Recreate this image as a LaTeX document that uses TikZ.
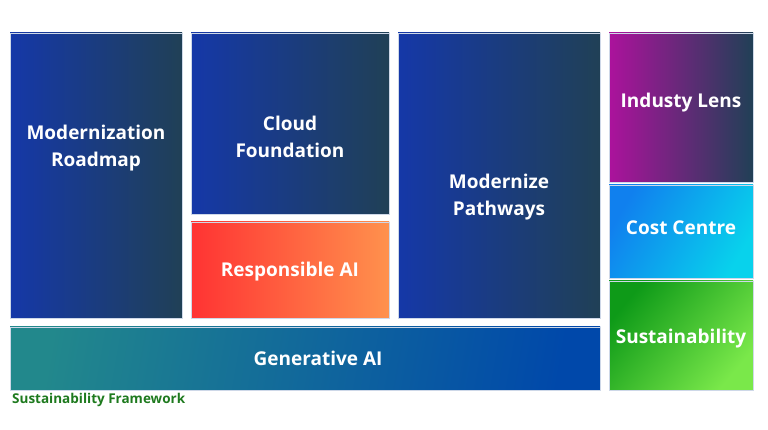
\documentclass[tikz,border=0pt]{standalone}
\usepackage{fontspec}
\setmainfont{Open Sans}
\definecolor{navyL}{RGB}{21,56,168}
\definecolor{navyR}{RGB}{32,64,86}
\definecolor{plumL}{RGB}{172,18,156}
\definecolor{coralL}{RGB}{255,51,51}
\definecolor{coralR}{RGB}{255,145,77}
\definecolor{skyL}{RGB}{16,128,238}
\definecolor{skyR}{RGB}{8,210,236}
\definecolor{leafL}{RGB}{14,154,24}
\definecolor{leafR}{RGB}{122,232,74}
\definecolor{tealL}{RGB}{34,136,140}
\definecolor{tealR}{RGB}{0,72,170}
\definecolor{edge}{RGB}{206,216,232}
\definecolor{frametext}{RGB}{30,122,30}

\begin{document}
\begin{tikzpicture}[x=1pt, y=1pt,
    tile/.style={draw=edge, line width=0.5pt},
    label/.style={text=white, font=\fontsize{19}{27}\selectfont\bfseries, align=center}]
  \fill[white] (0,0) rectangle (768,430);
  \useasboundingbox (0,0) rectangle (768,430);
  \path[tile, left color=navyL, right color=navyR] (10,397) rectangle (182,112);
  \path[tile, left color=navyL, right color=navyR] (191,397) rectangle (389,216);
  \path[tile, left color=coralL, right color=coralR] (191,208) rectangle (389,112);
  \path[tile, left color=navyL, right color=navyR] (398,397) rectangle (600,112);
  \path[tile, left color=plumL, right color=navyR] (609,397) rectangle (753,248);
  \path[tile, left color=skyL, right color=skyR, shading angle=60] (609,245) rectangle (753,152);
  \path[tile, left color=leafL, right color=leafR, shading angle=50] (609,149) rectangle (753,40);
  \path[tile, left color=tealL, right color=tealR, shading angle=80] (10,103) rectangle (600,40);
  \node[label] (roadmap) at (96,281.5) {Modernization\\Roadmap};
  \node[label] (cloud) at (290,293.5) {Cloud\\Foundation};
  \node[label] (respai) at (290,158) {Responsible AI};
  \node[label] (pathways) at (499,232.5) {Modernize\\Pathways};
  \node[label] (lens) at (681,327.5) {Industy Lens};
  \node[label] (cost) at (681,202.5) {Cost Centre};
  \node[label] (sust) at (681,91.5) {Sustainability};
  \node[label] (genai) at (318,72) {Generative AI};
  \node[anchor=west, inner sep=0pt, text=frametext, font=\fontsize{13.5}{16}\selectfont\bfseries] (frame) at (12,30) {Sustainability Framework};
\end{tikzpicture}
\end{document}
